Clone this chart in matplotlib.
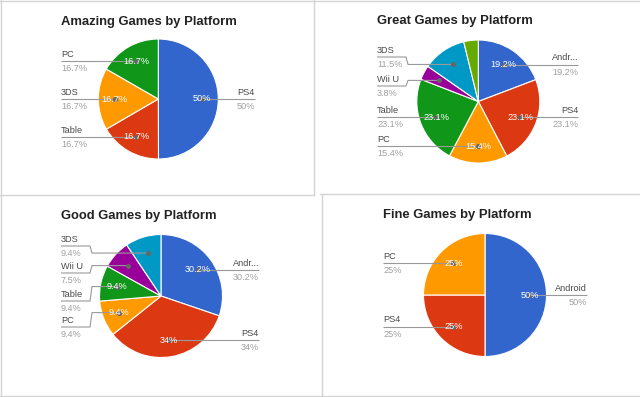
import numpy as np
import matplotlib
matplotlib.use('agg')
import matplotlib.pyplot as plt

plt.rcParams['font.family'] = ['Liberation Sans', 'DejaVu Sans']

W, H = 640, 397  # canvas size in pixels

# Percent of games per platform, listed clockwise from 12 o'clock
amazing_labels = ['PS4', 'Table', '3DS', 'PC']
amazing_values = [50, 16.7, 16.7, 16.7]

great_labels = ['Andr...', 'PS4', 'PC', 'Table', 'Wii U', '3DS', '']
great_values = [19.2, 23.1, 15.4, 23.1, 3.8, 11.5, 3.8]

good_labels = ['Andr...', 'PS4', 'PC', 'Table', 'Wii U', '3DS']
good_values = [30.2, 34, 9.4, 9.4, 7.5, 9.4]

fine_labels = ['Android', 'PS4', 'PC']
fine_values = [50, 25, 25]

titles = ['Amazing Games by Platform', 'Great Games by Platform',
          'Good Games by Platform', 'Fine Games by Platform']

palette = ['#3366cc', '#dc3912', '#ff9900', '#109618', '#990099',
           '#0099c6', '#66aa00']

# layout of each panel, in pixels from the top left corner
panels = [
    dict(labels=amazing_labels, values=amazing_values, title=titles[0],
         center=(158.3, 99), radius=60, title_xy=(61, 24.5),
         left_x=61, right_x=255,
         line_y=[None, None, None, None], inner=[1, 1, 1, 1]),
    dict(labels=great_labels, values=great_values, title=titles[1],
         center=(478.3, 101.5), radius=61.5, title_xy=(377, 24),
         left_x=377, right_x=578,
         line_y=[None, None, None, None, 86, 57, None],
         inner=[1, 1, 1, 1, 0, 0, 0]),
    dict(labels=good_labels, values=good_values, title=titles[2],
         center=(161, 296), radius=61.5, title_xy=(61, 219),
         left_x=61, right_x=259,
         line_y=[None, None, 327, 301, 273, 246],
         inner=[1, 1, 1, 1, 0, 0]),
    dict(labels=fine_labels, values=fine_values, title=titles[3],
         center=(485, 295), radius=61.5, title_xy=(383, 218),
         left_x=383, right_x=587,
         line_y=[None, None, None], inner=[1, 1, 1]),
]

name_color = '#4a4a4a'
pct_color = '#a0a0a0'
line_color = '#999999'
fs = 6.6

fig = plt.figure(figsize=(W / 100, H / 100), dpi=100)
ax = fig.add_axes([0, 0, 1, 1])


def up(y):
    return H - y


def fmt(v):
    return '{:g}%'.format(v)


for p in panels:
    cx, cy = p['center']
    r = p['radius']
    wedges, _ = ax.pie(p['values'], colors=palette[:len(p['values'])],
                       startangle=90, counterclock=False,
                       center=(cx, up(cy)), radius=r,
                       wedgeprops=dict(edgecolor='white', linewidth=0.8))

    ax.text(p['title_xy'][0], up(p['title_xy'][1]), p['title'],
            fontsize=9.4, fontweight='bold', color='#222222',
            ha='left', va='baseline')

    for i, w in enumerate(wedges):
        mid = np.radians((w.theta1 + w.theta2) / 2)
        dx = cx + 0.73 * r * np.cos(mid)
        dy = up(cy) + 0.73 * r * np.sin(mid)
        val = p['values'][i]

        if p['inner'][i]:
            ax.text(dx, dy, fmt(val), color='white', fontsize=fs,
                    ha='center', va='center', zorder=5)

        name = p['labels'][i]
        if not name:
            continue
        right = np.cos(mid) > 0.05
        ly = dy if p['line_y'][i] is None else up(p['line_y'][i])

        if right:
            tx = p['right_x']
            xs = [dx, tx]
            ys = [dy, ly]
            if ly != dy:
                xs = [dx, tx - 31, tx - 29, tx]
                ys = [dy, dy, ly, ly]
            ha = 'right'
        else:
            tx = p['left_x']
            xs = [tx, dx]
            ys = [ly, dy]
            if ly != dy:
                xs = [tx, tx + 29, tx + 31, dx]
                ys = [ly, ly, dy, dy]
            ha = 'left'
        ax.plot(xs, ys, color=line_color, lw=0.8, zorder=4,
                solid_capstyle='butt')
        ax.plot([dx], [dy], 'o', color='#666666', markersize=2.6, zorder=4)
        ax.text(tx, ly + 4.3, name, color=name_color, fontsize=fs,
                ha=ha, va='baseline')
        ax.text(tx, ly - 10, fmt(val), color=pct_color, fontsize=fs,
                ha=ha, va='baseline')

# gray borders of the four screenshot panels
border = dict(color='#d4d4d4', lw=1.0, zorder=6)
ax.plot([0, W], [up(0.5), up(0.5)], **border)
ax.plot([0.5, 0.5], [up(0), up(H)], **border)
ax.plot([313.5, 313.5], [up(0), up(195)], **border)
ax.plot([0, 314], [up(195), up(195)], **border)
ax.plot([320, W], [up(193.5), up(193.5)], **border)
ax.plot([322, 322], [up(194), up(H)], **border)
ax.plot([0, W], [up(396), up(396)], **border)

ax.set_xlim(0, W)
ax.set_ylim(0, H)
ax.set_aspect('auto')
ax.axis('off')

fig.savefig('out.png', dpi=100)
